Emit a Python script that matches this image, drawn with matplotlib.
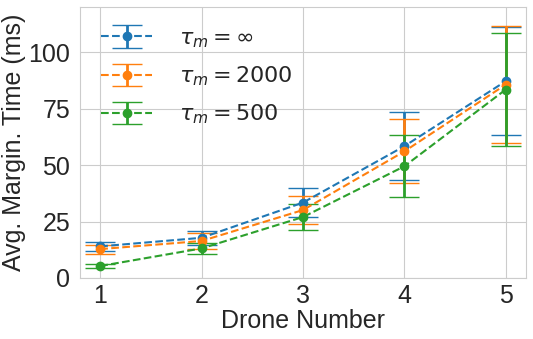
import matplotlib
matplotlib.use("Agg")
import matplotlib.pyplot as plt
import seaborn as sns

drones = [1, 2, 3, 4, 5]
labels = [r"$\tau_m = \infty$", r"$\tau_m = 2000$", r"$\tau_m = 500$"]
means_inf = [14.0, 17.8, 33.4, 58.4, 87.2]
err_inf = [2.0, 3.1, 6.4, 15.1, 24.0]
means_2000 = [12.8, 16.4, 30.1, 56.1, 85.7]
err_2000 = [2.0, 3.4, 6.0, 14.2, 25.8]
means_500 = [5.3, 13.1, 27.0, 49.5, 83.5]
err_500 = [0.9, 2.4, 5.8, 13.7, 25.0]
colors = ["#1f77b4", "#ff7f0e", "#2ca02c"]

sns.set_style("whitegrid")
plt.rcParams['font.family'] = ['Liberation Sans', 'DejaVu Sans']
plt.rcParams['mathtext.fontset'] = 'dejavusans'

fig = plt.figure(figsize=(5.33, 3.39), dpi=100)
ax = fig.add_axes([0.150, 0.180, 0.837, 0.799])

for m, e, c, lab in zip([means_inf, means_2000, means_500],
                        [err_inf, err_2000, err_500], colors, labels):
    ax.errorbar(drones, m, yerr=e, fmt='o--', color=c, capsize=11,
                markersize=6, linewidth=1.5, elinewidth=2, capthick=1, label=lab)

ax.set_xlim(0.8, 5.2)
ax.set_ylim(0, 120)
ax.set_xticks(drones)
ax.set_yticks([0, 25, 50, 75, 100])
ax.tick_params(labelsize=18)
ax.tick_params(axis='x', pad=0.5)
ax.set_xlabel("Drone Number", fontsize=18, labelpad=1)
ax.set_ylabel("Avg. Margin. Time (ms)", fontsize=18, labelpad=2)
ax.legend(loc='upper left', fontsize=16, frameon=False, handletextpad=1.2,
          handlelength=2.3, labelspacing=0.66, borderaxespad=0.55)

fig.savefig("out.png", dpi=100)
